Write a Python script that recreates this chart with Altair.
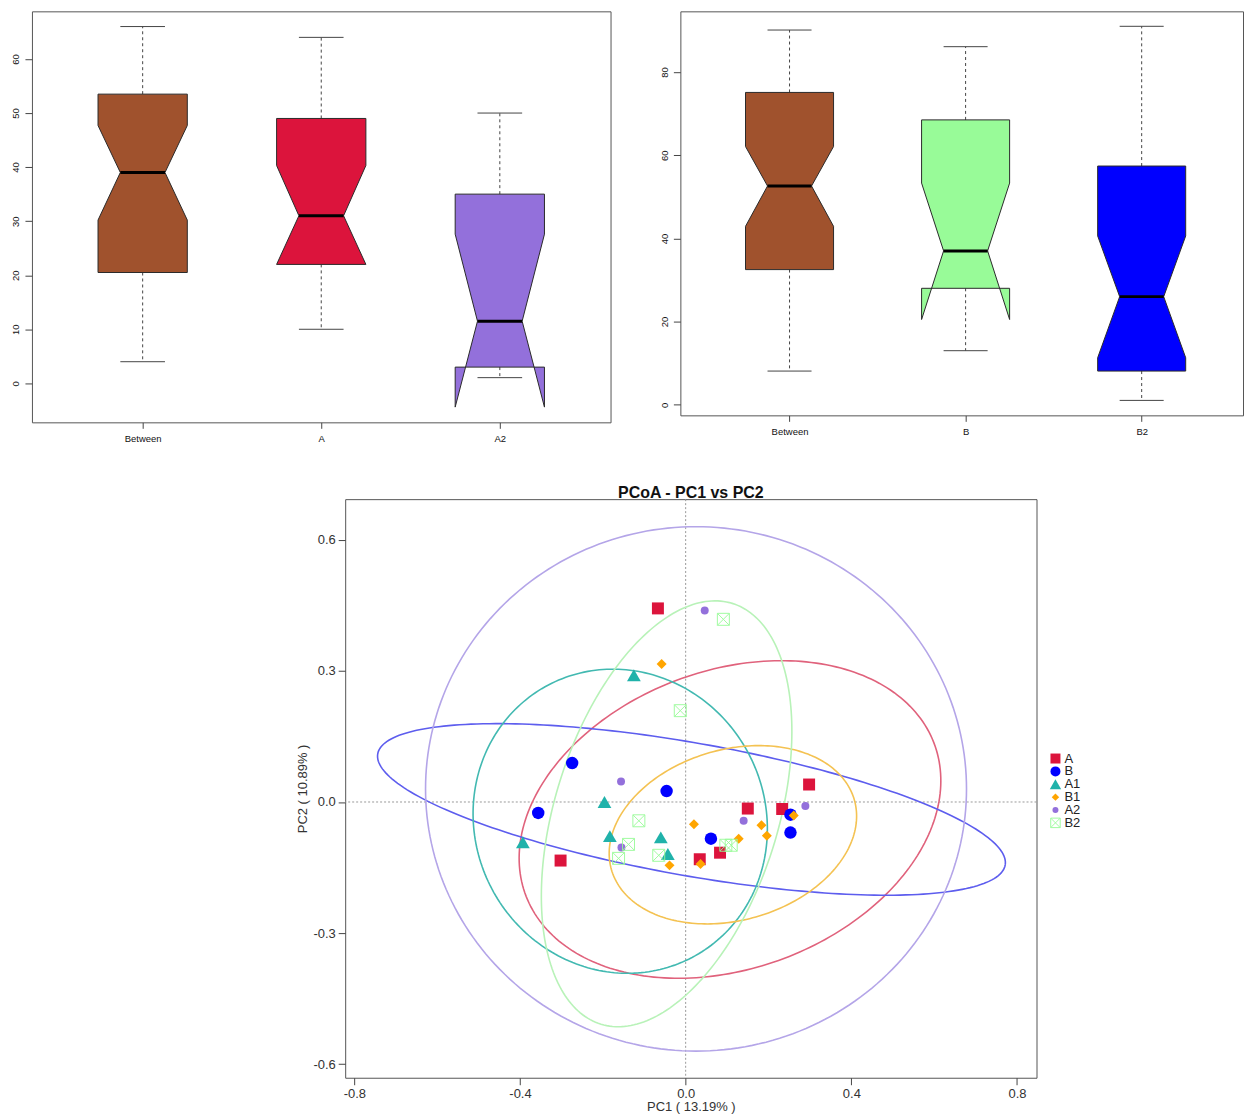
import altair as alt
import numpy as np
import pandas as pd

FONT = "Liberation Sans"

# ------------------------------------------------------------------ data
# top-left notched boxplot
left_groups = ["Between", "A", "A2"]
left_whisker_lo = [4.0, 10.0, 1.05]
left_q1 = [20.5, 22.0, 3.0]
left_notch_lo = [30.2, 22.0, -4.4]
left_median = [39.0, 31.0, 11.5]
left_notch_hi = [47.7, 40.3, 27.6]
left_q3 = [53.5, 49.0, 35.0]
left_whisker_hi = [66.0, 64.0, 50.0]
left_ticks = [0, 10, 20, 30, 40, 50, 60]

# top-right notched boxplot
right_groups = ["Between", "B", "B2"]
right_whisker_lo = [8.1, 13.0, 1.05]
right_q1 = [32.5, 28.0, 8.1]
right_notch_lo = [42.9, 20.5, 11.3]
right_median = [52.6, 37.0, 26.0]
right_notch_hi = [62.1, 53.3, 40.6]
right_q3 = [75.1, 68.5, 57.4]
right_whisker_hi = [90.1, 86.1, 91.0]
right_ticks = [0, 20, 40, 60, 80]

# PCoA scatter
pcoa_groups = ["A", "B", "A1", "B1", "A2", "B2"]
A_pc1 = [-0.067, -0.302, 0.034, 0.083, 0.150, 0.233, 0.298]
A_pc2 = [0.443, -0.134, -0.131, -0.116, -0.015, -0.016, 0.040]
B_pc1 = [-0.274, -0.046, -0.356, 0.061, 0.253, 0.253]
B_pc2 = [0.089, 0.025, -0.025, -0.084, -0.029, -0.070]
A1_pc1 = [-0.125, -0.196, -0.183, -0.060, -0.393, -0.043]
A1_pc2 = [0.290, 0.000, -0.078, -0.081, -0.092, -0.119]
B1_pc1 = [-0.058, 0.020, -0.039, 0.036, 0.128, 0.183, 0.196, 0.261]
B1_pc2 = [0.316, -0.051, -0.145, -0.142, -0.084, -0.053, -0.077, -0.031]
A2_pc1 = [0.046, -0.156, -0.155, 0.140, 0.289]
A2_pc2 = [0.438, 0.047, -0.104, -0.043, -0.009]
B2_pc1 = [0.091, -0.013, -0.113, -0.138, -0.162, -0.065, 0.097, 0.110]
B2_pc2 = [0.418, 0.209, -0.043, -0.097, -0.129, -0.122, -0.099, -0.099]
pc1_values = [A_pc1, B_pc1, A1_pc1, B1_pc1, A2_pc1, B2_pc1]
pc2_values = [A_pc2, B_pc2, A1_pc2, B1_pc2, A2_pc2, B2_pc2]

# confidence ellipses (centre, semi-axes, rotation in degrees), same group order
ell_cx = [0.107, 0.014, -0.158, 0.114, 0.025, -0.046]
ell_cy = [-0.040, -0.017, -0.044, -0.075, 0.030, -0.027]
ell_a = [0.523, 0.768, 0.361, 0.304, 0.653, 0.507]
ell_b = [0.343, 0.152, 0.342, 0.196, 0.600, 0.268]
ell_angle = [17.7, -9.5, -33.7, 14.1, 0.0, 71.0]

pc1_ticks = [-0.8, -0.4, 0.0, 0.4, 0.8]
pc2_ticks = [-0.6, -0.3, 0.0, 0.3, 0.6]
x_title = "PC1 ( 13.19% )"
y_title = "PC2 ( 10.89% )"
plot_title = "PCoA - PC1 vs PC2"

# ------------------------------------------------------------------ styles
left_fill = ["#A0522D", "#DC143C", "#9370DB"]
right_fill = ["#A0522D", "#98FB98", "#0000FF"]
B2_PATH = "M-1,-1L1,-1L1,1L-1,1Z M-1,-1L1,1 M1,-1L-1,1"
point_colors = ["#DC143C", "#0000FF", "#20B2AA", "#FFA500", "#9370DB", "#98FB98"]
point_shapes = ["square", "circle", "triangle-up", "diamond", "circle", B2_PATH]
point_sizes = [144, 156, 190, 100, 64, 144]
legend_sizes = [100, 100, 130, 56, 36, 90]
ellipse_colors = ["#E0627C", "#5D5DEE", "#42B9B1", "#F4C252", "#B4A5E8", "#B8F2B8"]


# ------------------------------------------------------------------ boxplots
def boxplot(groups, fills, wlo, q1, nlo, med, nhi, q3, whi, ticks, width, height, px_per_unit=None):
    W, N, CAP = 0.25, 0.125, 0.125
    fill_rows, line_rows, med_rows, wh_rows, cap_rows = [], [], [], [], []
    for i, g in enumerate(groups):
        c = i + 1
        lo, m, hi = nlo[i], med[i], nhi[i]

        def half(y, lo=lo, m=m, hi=hi):
            if y <= lo or y >= hi:
                return W
            if y <= m:
                return W - (W - N) * (y - lo) / (m - lo)
            return N + (W - N) * (y - m) / (hi - m)

        ys = sorted(set([q1[i], q3[i]] + [v for v in (lo, m, hi) if q1[i] < v < q3[i]]))
        for y in ys:
            fill_rows.append({"piece": g + "|main", "y": y, "xa": c - half(y), "xb": c + half(y), "col": fills[i]})
        if lo < q1[i]:
            for y in (lo, q1[i]):
                fill_rows.append({"piece": g + "|bl", "y": y, "xa": c - W, "xb": c - half(y), "col": fills[i]})
                fill_rows.append({"piece": g + "|br", "y": y, "xa": c + half(y), "xb": c + W, "col": fills[i]})
        if hi > q3[i]:
            for y in (q3[i], hi):
                fill_rows.append({"piece": g + "|tl", "y": y, "xa": c - W, "xb": c - half(y), "col": fills[i]})
                fill_rows.append({"piece": g + "|tr", "y": y, "xa": c + half(y), "xb": c + W, "col": fills[i]})
        pts = [(c - W, q1[i]), (c - W, lo), (c - N, m), (c - W, hi), (c - W, q3[i]),
               (c + W, q3[i]), (c + W, hi), (c + N, m), (c + W, lo), (c + W, q1[i]), (c - W, q1[i])]
        for k, (x, y) in enumerate(pts):
            line_rows.append({"box": g, "ord": k, "x": x, "y": y})
        med_rows.append({"xa": c - N, "xb": c + N, "y": m})
        wh_rows.append({"x": c, "ya": q3[i], "yb": whi[i]})
        wh_rows.append({"x": c, "ya": q1[i], "yb": wlo[i]})
        cap_rows.append({"xa": c - CAP, "xb": c + CAP, "y": whi[i]})
        cap_rows.append({"xa": c - CAP, "xb": c + CAP, "y": wlo[i]})

    ymin = min(wlo + q1 + nlo)
    ymax = max(whi + q3 + nhi)
    ypad = 0.04 * (ymax - ymin)
    n = len(groups)
    xpad = 0.04 * n
    x0 = 0.5 - xpad
    x1 = n + 0.5 + xpad if px_per_unit is None else x0 + width / px_per_unit
    ysc = alt.Scale(domain=[ymin - ypad, ymax + ypad], nice=False, zero=False)
    xsc = alt.Scale(domain=[x0, x1], nice=False, zero=False)
    label_expr = "[" + ",".join("'%s'" % g for g in groups) + "][round(datum.value) - 1]"
    xax = alt.Axis(values=list(range(1, n + 1)), labelExpr=label_expr, title=None, grid=False,
                   domain=False, tickSize=6, tickColor="#444", labelFont=FONT, labelFontSize=9.5,
                   labelColor="#111", labelPadding=5)
    yax = alt.Axis(values=ticks, title=None, grid=False, domain=False, tickSize=7, tickColor="#444",
                   labelAngle=270, labelAlign="center", labelBaseline="bottom", labelFont=FONT,
                   labelFontSize=9.5, labelColor="#111", labelPadding=4)

    whisk = alt.Chart(pd.DataFrame(wh_rows)).mark_rule(color="#444", strokeWidth=1, strokeDash=[3, 3]).encode(
        x=alt.X("x:Q", scale=xsc, axis=xax), y=alt.Y("ya:Q", scale=ysc, axis=yax), y2="yb:Q")
    caps = alt.Chart(pd.DataFrame(cap_rows)).mark_rule(color="#444", strokeWidth=1).encode(
        x=alt.X("xa:Q", scale=xsc, axis=xax), x2="xb:Q", y=alt.Y("y:Q", scale=ysc, axis=yax))
    fill = alt.Chart(pd.DataFrame(fill_rows)).mark_area(orient="horizontal").encode(
        y=alt.Y("y:Q", scale=ysc, axis=yax),
        x=alt.X("xa:Q", scale=xsc, axis=xax, stack=False),
        x2="xb:Q",
        detail="piece:N",
        color=alt.Color("col:N", scale=None))
    outline = alt.Chart(pd.DataFrame(line_rows)).mark_line(color="#2a2a2a", strokeWidth=1).encode(
        x=alt.X("x:Q", scale=xsc, axis=xax), y=alt.Y("y:Q", scale=ysc, axis=yax),
        order="ord:Q", detail="box:N")
    median = alt.Chart(pd.DataFrame(med_rows)).mark_rule(color="black", strokeWidth=3).encode(
        x=alt.X("xa:Q", scale=xsc, axis=xax), x2="xb:Q", y=alt.Y("y:Q", scale=ysc, axis=yax))
    return alt.layer(whisk, caps, fill, outline, median).properties(width=width, height=height)


left = boxplot(left_groups, left_fill, left_whisker_lo, left_q1, left_notch_lo, left_median,
               left_notch_hi, left_q3, left_whisker_hi, left_ticks, 580, 412)
# the reference's right panel runs past the picture edge: keep its scale, end the frame at the edge
right = boxplot(right_groups, right_fill, right_whisker_lo, right_q1, right_notch_lo, right_median,
                right_notch_hi, right_q3, right_whisker_hi, right_ticks, 564, 405, px_per_unit=176.5)

# ------------------------------------------------------------------ PCoA
pt_rows = []
for gi, g in enumerate(pcoa_groups):
    for x, y in zip(pc1_values[gi], pc2_values[gi]):
        pt_rows.append({"group": g, "pc1": x, "pc2": y, "col": point_colors[gi],
                        "shp": point_shapes[gi], "sz": point_sizes[gi]})
pts = pd.DataFrame(pt_rows)

ell_rows = []
t = np.linspace(0, 2 * np.pi, 241)
for gi, g in enumerate(pcoa_groups):
    th = np.deg2rad(ell_angle[gi])
    ex = ell_cx[gi] + ell_a[gi] * np.cos(t) * np.cos(th) - ell_b[gi] * np.sin(t) * np.sin(th)
    ey = ell_cy[gi] + ell_a[gi] * np.cos(t) * np.sin(th) + ell_b[gi] * np.sin(t) * np.cos(th)
    for k in range(len(t)):
        ell_rows.append({"group": g, "k": k, "pc1": ex[k], "pc2": ey[k], "col": ellipse_colors[gi]})
ells = pd.DataFrame(ell_rows)

LEG_X, LEG_Y0, LEG_DY = 712, 260, 12.9
leg = pd.DataFrame({
    "group": pcoa_groups,
    "ly": [LEG_Y0 + i * LEG_DY for i in range(len(pcoa_groups))],
    "col": point_colors, "shp": point_shapes, "sz": legend_sizes,
})

PW, PH = 693, 580
px_sc = alt.Scale(domain=[-0.822, 0.847], nice=False, zero=False)
py_sc = alt.Scale(domain=[-0.631, 0.693], nice=False, zero=False)
fmt = "(datum.value < 0 ? '-' : '') + format(abs(datum.value), '.1f')"
px_ax = alt.Axis(values=pc1_ticks, labelExpr=fmt, title=x_title, grid=False, domain=False, tickSize=7,
                 tickColor="#444", labelFont=FONT, labelFontSize=13, labelColor="#333", labelPadding=3,
                 titleFont=FONT, titleFontSize=13, titleFontWeight="normal", titleColor="#333", titlePadding=0)
py_ax = alt.Axis(values=pc2_ticks, labelExpr=fmt, title=y_title, grid=False, domain=False, tickSize=7,
                 tickColor="#444", labelFont=FONT, labelFontSize=13, labelColor="#333", labelPadding=3,
                 titleFont=FONT, titleFontSize=13, titleFontWeight="normal", titleColor="#333", titlePadding=3)

zero = pd.DataFrame({"v": [0.0]})
vline = alt.Chart(zero).mark_rule(color="#999", strokeWidth=1, strokeDash=[2, 2]).encode(
    x=alt.X("v:Q", scale=px_sc, axis=px_ax))
hline = alt.Chart(zero).mark_rule(color="#999", strokeWidth=1, strokeDash=[2, 2]).encode(
    y=alt.Y("v:Q", scale=py_sc, axis=py_ax))
ell_layer = alt.Chart(ells).mark_line(strokeWidth=1.6).encode(
    x=alt.X("pc1:Q", scale=px_sc, axis=px_ax), y=alt.Y("pc2:Q", scale=py_sc, axis=py_ax),
    order="k:Q", detail="group:N", stroke=alt.Stroke("col:N", scale=None))
filled_pts = alt.Chart(pts[pts.group != "B2"]).mark_point(filled=True, opacity=1).encode(
    x=alt.X("pc1:Q", scale=px_sc, axis=px_ax), y=alt.Y("pc2:Q", scale=py_sc, axis=py_ax),
    color=alt.Color("col:N", scale=None), shape=alt.Shape("shp:N", scale=None),
    size=alt.Size("sz:Q", scale=None))
open_pts = alt.Chart(pts[pts.group == "B2"]).mark_point(filled=False, opacity=0.9, strokeWidth=1).encode(
    x=alt.X("pc1:Q", scale=px_sc, axis=px_ax), y=alt.Y("pc2:Q", scale=py_sc, axis=py_ax),
    color=alt.Color("col:N", scale=None), shape=alt.Shape("shp:N", scale=None),
    size=alt.Size("sz:Q", scale=None))
leg_filled = alt.Chart(leg[leg.group != "B2"]).mark_point(filled=True, opacity=1).encode(
    x=alt.value(LEG_X), y=alt.Y("ly:Q", scale=None, axis=None),
    color=alt.Color("col:N", scale=None), shape=alt.Shape("shp:N", scale=None),
    size=alt.Size("sz:Q", scale=None))
leg_open = alt.Chart(leg[leg.group == "B2"]).mark_point(filled=False, opacity=0.9, strokeWidth=1).encode(
    x=alt.value(LEG_X), y=alt.Y("ly:Q", scale=None, axis=None),
    color=alt.Color("col:N", scale=None), shape=alt.Shape("shp:N", scale=None),
    size=alt.Size("sz:Q", scale=None))
leg_text = alt.Chart(leg).mark_text(align="left", baseline="middle", font=FONT, fontSize=13,
                                     color="#222", dx=0).encode(
    x=alt.value(LEG_X + 9), y=alt.Y("ly:Q", scale=None, axis=None), text="group:N")

pcoa = alt.layer(vline, hline, ell_layer, filled_pts, open_pts, leg_filled, leg_open, leg_text).properties(
    width=PW, height=PH,
    title=alt.TitleParams(plot_title, font=FONT, fontSize=16, fontWeight="bold", anchor="middle",
                          frame="group", offset=-2, color="#111"))

spacer = alt.Chart(pd.DataFrame({"s": [0]})).mark_point(opacity=0).encode(
    x=alt.X("s:Q", axis=None), y=alt.Y("s:Q", axis=None)).properties(
    width=264, height=20, view=alt.ViewBackground(stroke="transparent"))

chart = alt.vconcat(
    alt.hconcat(left, right, spacing=47),
    alt.hconcat(spacer, pcoa, spacing=0),
    spacing=41,
).properties(
    padding={"left": 2, "top": 1, "right": 0, "bottom": 0}
).configure_view(stroke="#555", strokeWidth=1)

chart.save("out.html", embed_options={"renderer": "svg", "actions": False})
